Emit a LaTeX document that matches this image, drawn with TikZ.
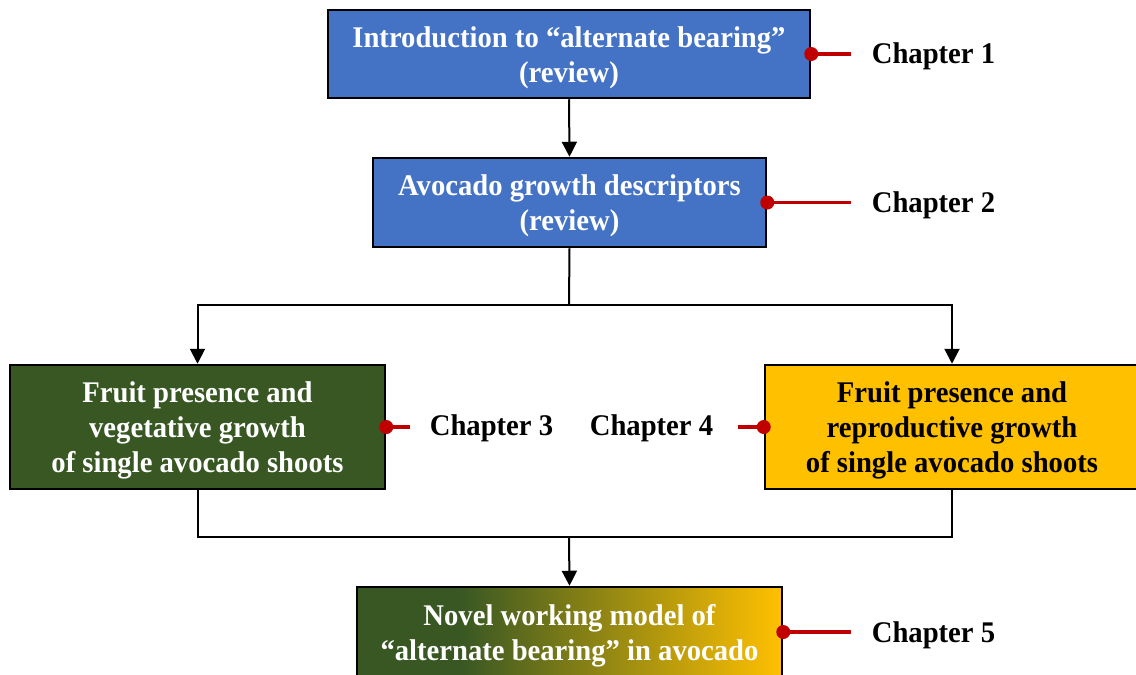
\documentclass[tikz,border=0pt]{standalone}
\usepackage{fontspec}
\setmainfont{Liberation Serif}[FakeStretch=0.955]
\usetikzlibrary{arrows.meta, positioning}
\definecolor{introblue}{HTML}{4472C4}
\definecolor{leafgreen}{HTML}{385723}
\definecolor{fruitgold}{HTML}{FFC000}
\definecolor{chapred}{HTML}{C00000}
\pgfdeclarehorizontalshading{leaftofruit}{100bp}{color(0bp)=(leafgreen); color(37bp)=(leafgreen); color(75bp)=(fruitgold); color(100bp)=(fruitgold)}
% box text, lowered a little inside its box
\newcommand{\boxlines}[1]{\raisebox{-3.5pt}[\height][\depth]{\begin{tabular}{@{}c@{}}#1\end{tabular}}}

\begin{document}
\begin{tikzpicture}[x=1pt, y=-1pt,
    box/.style={draw=black, line width=2.5pt, text=white, inner sep=0pt,
        font=\bfseries\fontsize{30}{35}\selectfont}, % all boxes
    chap/.style={inner sep=0pt, anchor=base, font=\bfseries\fontsize{30}{35}\selectfont},
    arr/.style={line width=2pt, -{Triangle[length=15pt,width=15pt]}},
    tag/.style={chapred, line width=3.5pt}
    ]
\useasboundingbox (0,0) rectangle (1136,675);

\node[box, fill=introblue, minimum width=482pt, minimum height=88pt] (intro) at (569,54)
    {\boxlines{Introduction to ``alternate bearing''\\(review)}};
\node[box, fill=introblue, minimum width=393pt, minimum height=89pt] (growth) at (569.5,202.5)
    {\boxlines{Avocado growth descriptors\\(review)}};
\node[box, fill=leafgreen, minimum width=375pt, minimum height=124pt] (veg) at (197.5,427)
    {\boxlines{Fruit presence and\\vegetative growth\\of single avocado shoots}};
\node[box, fill=fruitgold, text=black, minimum width=374pt, minimum height=124pt] (repro) at (952,427)
    {\boxlines{Fruit presence and\\reproductive growth\\of single avocado shoots}};
\node[box, shading=leaftofruit, minimum width=425pt, minimum height=90pt] (model) at (569.5,632)
    {\boxlines{Novel working model of\\``alternate bearing'' in avocado}};

\coordinate (split) at (569,305);
\coordinate (merge) at (569,537);
\draw[arr] (intro.south) -- (growth.north);
\draw[line width=2pt] (growth.south) -- (split);
\draw[arr] (split) -| (veg.north);
\draw[arr] (split) -| (repro.north);
\draw[line width=2pt] (veg.south) |- (merge) -| (repro.south);
\draw[arr] (merge) -- (model.north);

\node[chap] (ch1) at (933.5,63) {Chapter 1};
\node[chap] (ch2) at (933.5,212) {Chapter 2};
\node[chap] (ch3) at (491.5,435) {Chapter 3};
\node[chap] (ch4) at (651.5,435) {Chapter 4};
\node[chap] (ch5) at (933.5,642) {Chapter 5};

\draw[tag, shorten >=21pt] (intro.east) -- (intro.east -| ch1.west);
\draw[tag, shorten >=21pt] (growth.east) -- (growth.east -| ch2.west);
\draw[tag, shorten >=20pt] (veg.east) -- (veg.east -| ch3.west);
\draw[tag, shorten >=25pt] (repro.west) -- (repro.west -| ch4.east);
\draw[tag, shorten >=21pt] (model.east) -- (model.east -| ch5.west);
\foreach \b in {intro.east, growth.east, veg.east, repro.west, model.east}
    \fill[chapred] (\b) circle (7pt);
\end{tikzpicture}
\end{document}
